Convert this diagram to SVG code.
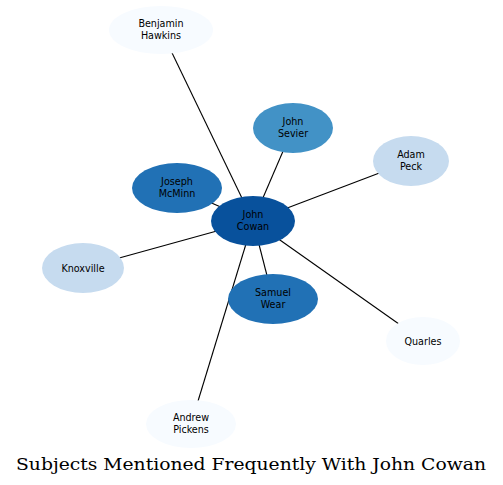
<svg xmlns="http://www.w3.org/2000/svg" width="503" height="485" viewBox="0 0 503 485">
<style>
.e{stroke:#000;stroke-width:1.1;fill:none}
text{font-family:"DejaVu Sans",sans-serif;font-size:9.6px;fill:#000;text-anchor:middle}
.t{font-family:"DejaVu Serif",serif;font-size:17px}
</style>
<rect width="503" height="485" fill="#fff"/>
<g id="connectors">
<line class="e" x1="161" y1="30" x2="253" y2="221"/>
<line class="e" x1="293" y1="128" x2="253" y2="221"/>
<line class="e" x1="411" y1="161" x2="253" y2="221"/>
<line class="e" x1="177" y1="188" x2="253" y2="221"/>
<line class="e" x1="83" y1="268" x2="253" y2="221"/>
<line class="e" x1="273" y1="299" x2="253" y2="221"/>
<line class="e" x1="423" y1="341" x2="253" y2="221"/>
<line class="e" x1="191" y1="424" x2="253" y2="221"/>
</g>
<g id="benjamin-hawkins"><ellipse cx="161" cy="30" rx="52" ry="24" fill="#f7fbff"/><text x="161" y="26.5">Benjamin</text><text x="161" y="38.5">Hawkins</text></g>
<g id="john-sevier"><ellipse cx="293" cy="128" rx="40" ry="25" fill="#4292c6"/><text x="293" y="124.5">John</text><text x="293" y="136.5">Sevier</text></g>
<g id="adam-peck"><ellipse cx="411" cy="161" rx="38" ry="25" fill="#c6dbef"/><text x="411" y="157.5">Adam</text><text x="411" y="169.5">Peck</text></g>
<g id="joseph-mcminn"><ellipse cx="177" cy="188" rx="45" ry="25" fill="#2171b5"/><text x="177" y="184.5">Joseph</text><text x="177" y="196.5">McMinn</text></g>
<g id="john-cowan"><ellipse cx="253" cy="221" rx="42" ry="25" fill="#08519c"/><text x="253" y="217.5">John</text><text x="253" y="229.5">Cowan</text></g>
<g id="knoxville"><ellipse cx="83" cy="268" rx="41" ry="25" fill="#c6dbef"/><text x="83" y="271.5">Knoxville</text></g>
<g id="samuel-wear"><ellipse cx="273" cy="299" rx="45" ry="25" fill="#2171b5"/><text x="273" y="295.5">Samuel</text><text x="273" y="307.5">Wear</text></g>
<g id="quarles"><ellipse cx="423" cy="341" rx="37" ry="24" fill="#f7fbff"/><text x="423" y="344.5">Quarles</text></g>
<g id="andrew-pickens"><ellipse cx="191" cy="424" rx="45" ry="24" fill="#f7fbff"/><text x="191" y="420.5">Andrew</text><text x="191" y="432.5">Pickens</text></g>
<text class="t" x="251" y="470" textLength="470" lengthAdjust="spacingAndGlyphs">Subjects Mentioned Frequently With John Cowan</text>
</svg>
